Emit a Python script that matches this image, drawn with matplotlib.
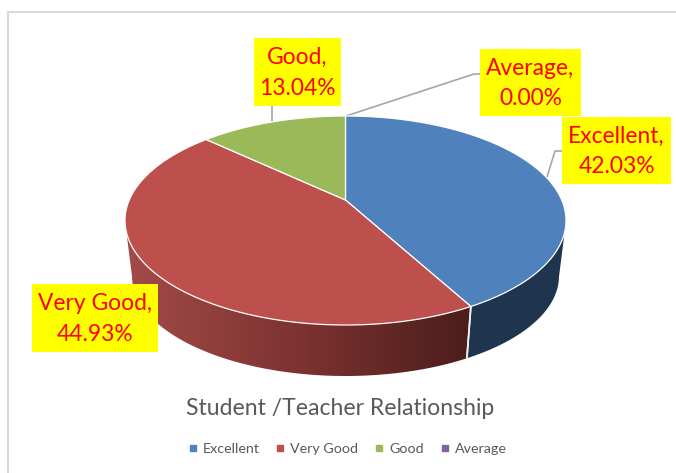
import matplotlib
matplotlib.use("Agg")
import matplotlib.pyplot as plt
import numpy as np
from matplotlib.colors import LinearSegmentedColormap
from matplotlib.lines import Line2D
from matplotlib.patches import Polygon, Rectangle

categories = ["Excellent", "Very Good", "Good", "Average"]
shares = [42.03, 44.93, 13.04, 0.00]
title = "Student /Teacher Relationship"

top_colors = ["#4f81bd", "#bd4f4c", "#9bb959", "#8064a2"]
label_font = "Lato"

# pie geometry in pixels, the view is set up so 1 unit = 1 pixel
cx, cy, rx, ry = 345.5, 220.5, 220.5, 104.5
low_cx, low_cy, low_rx, low_ry = 345.5, 276, 213.5, 100
tilt = -0.196  # perspective pushes the pie centre up from the ellipse centre


def project(theta):
    # clockwise angle from 12 o'clock -> position on the unit ellipse
    u, v = np.sin(theta), -np.cos(theta)
    d = 1 + tilt * v
    return u * np.sqrt(1 - tilt ** 2) / d, (v + tilt) / d


fig = plt.figure(figsize=(6.76, 4.73), dpi=100)
ax = fig.add_axes([0, 0, 1, 1])
ax.axis("off")

# frame of the chart area, cut off at the right and bottom of the screenshot
ax.plot([8, 8, 676], [473, 12, 12], color="#d9d9d9", lw=1.5, solid_joinstyle="miter")

edges = np.radians(np.concatenate([[0], np.cumsum(shares)]) * 3.6)
centre_y = cy + ry * tilt

red_side = LinearSegmentedColormap.from_list("red_side", ["#a34b48", "#7d3331", "#4b1d1a"])
side_colors = [None, red_side, None, None]
flat_sides = ["#1f344f", None, None, None]

for i, share in enumerate(shares):
    if share == 0:
        continue
    theta = np.linspace(edges[i], edges[i + 1], 300)
    u, v = project(theta)

    # wall below the front part of the slice
    front = v >= 0
    if front.any():
        xt, yt = cx + rx * u[front], cy + ry * v[front]
        xb, yb = low_cx + low_rx * u[front], low_cy + low_ry * v[front]
        pts = np.column_stack([np.r_[xt, xb[::-1]], np.r_[yt, yb[::-1]]])
        wall = Polygon(pts, closed=True, fc=flat_sides[i] or "none", ec="none", zorder=2)
        ax.add_patch(wall)
        if side_colors[i] is not None:
            grad = np.linspace(0, 1, 256).reshape(1, -1)
            im = ax.imshow(grad, cmap=side_colors[i], aspect="auto", zorder=2,
                           extent=[pts[:, 0].min(), pts[:, 0].max(), pts[:, 1].max(), pts[:, 1].min()])
            im.set_clip_path(wall)
        # white seam where the slices meet on the wall
        for k in (0, -1):
            if abs(u[front][k]) < 0.95:
                ax.plot([xt[k], xb[k]], [yt[k], yb[k]], color="#f2f2f2", lw=1.2, zorder=3)

    # top face
    xs = np.r_[cx, cx + rx * u]
    ys = np.r_[centre_y, cy + ry * v]
    ax.fill(xs, ys, fc=top_colors[i], ec="white", lw=0.9, zorder=4, joinstyle="round")

# leader lines
lead_color = "#a6a6a6"
ax.plot([272, 272], [106, 122], color=lead_color, lw=1.2, zorder=3)
ax.plot([346, 474, 481], [116, 74, 74], color=lead_color, lw=1.2, zorder=3)
ax.plot([547, 555, 563], [177, 151, 151], color=lead_color, lw=1.2, zorder=3)

# data labels: box left, top, right, bottom
boxes = [(562, 117, 671, 184), (32, 284, 158, 352), (254, 38, 341, 106), (480, 49, 581, 116)]
for name, share, (x0, y0, x1, y1) in zip(categories, shares, boxes):
    ax.add_patch(Rectangle((x0, y0), x1 - x0, y1 - y0, fc="#ffff00", ec="none", zorder=5))
    ax.text((x0 + x1) / 2, (y0 + y1) / 2 + 1, f"{name},\n{share:.2f}%", color="#ff0000",
            fontsize=16.4, family=label_font, ha="center", va="center", linespacing=1.55, zorder=6)

ax.text(340.5, 408, title, color="#595959", fontsize=16.6, family=label_font,
        ha="center", va="center")

# legend
handles = [Line2D([], [], marker="s", ls="none", ms=4, color=c) for c in top_colors]
ax.legend(handles, categories, ncol=4, loc="center", bbox_to_anchor=(346 / 676, 1 - 449 / 473),
          frameon=False, labelcolor="#595959", handletextpad=0.2, columnspacing=0.95,
          handlelength=1.0, prop={"family": label_font, "size": 10.3})

ax.set_xlim(0, 676)
ax.set_ylim(473, 0)
fig.savefig("out.png", dpi=100, facecolor="white")
